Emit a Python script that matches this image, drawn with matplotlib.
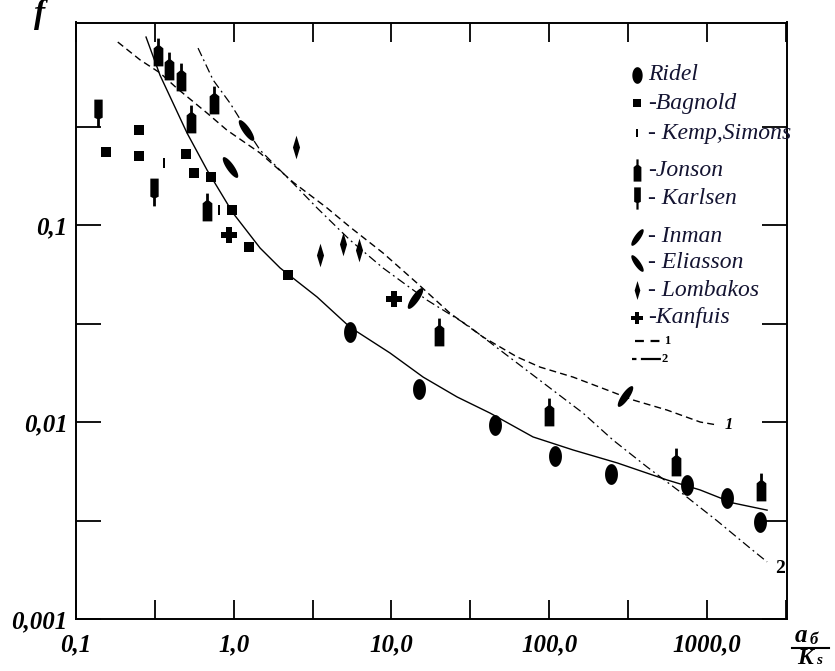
"""Friction factor f vs a_b/K_s: data points and fitted curves (log-log)."""
import matplotlib
matplotlib.use('Agg')
import matplotlib.pyplot as plt
import numpy as np
from matplotlib.lines import Line2D

# ------------------------------------------------------------------
#  Data
# ------------------------------------------------------------------
ridel_x = [5.46, 15.0, 45.4, 109, 247, 748, 1342, 2173]
ridel_y = [0.0286, 0.0147, 0.00966, 0.00672, 0.00544, 0.00479, 0.00411, 0.0031]

bagnold_x = [0.155, 0.251, 0.251, 0.498, 0.56, 0.718, 0.975, 1.25, 2.21]
bagnold_y = [0.235, 0.303, 0.224, 0.229, 0.184, 0.175, 0.119, 0.0773, 0.0557]

kemp_x = [0.361, 0.807]
kemp_y = [0.207, 0.119]

jonson_x = [0.331, 0.389, 0.464, 0.75, 0.536, 0.678, 20.0, 99.8, 638, 2208]
jonson_y = [0.755, 0.641, 0.563, 0.431, 0.345, 0.123, 0.0286, 0.0112, 0.0063, 0.0047]

karlsen_x = [0.138, 0.313]
karlsen_y = [0.37, 0.147]

inman_x = [14.1, 303]
inman_y = [0.0426, 0.01355]

eliasson_x = [1.197, 0.947]
eliasson_y = [0.303, 0.197]

lombakos_x = [2.48, 3.53, 4.93, 6.23]
lombakos_y = [0.249, 0.0704, 0.080, 0.0747]

kanfuis_x = [0.933, 10.4]
kanfuis_y = [0.089, 0.0421]

# fitted curve through Ridel data (solid)
ridel_curve_x = [0.278, 0.341, 0.506, 0.678, 0.99, 1.47, 1.97, 3.38, 5.46, 9.8,
                 15.9, 26.1, 42.2, 79, 142, 270, 559, 906, 1466, 2409]
ridel_curve_y = [0.90, 0.576, 0.293, 0.190, 0.115, 0.0764, 0.0605, 0.0431, 0.0303,
                 0.0224, 0.0169, 0.0134, 0.0111, 0.0084, 0.00721, 0.0062, 0.00508,
                 0.00452, 0.00388, 0.00357]

# curve 1 (dashed)
curve1_x = [0.184, 0.255, 0.341, 0.436, 0.678, 0.907, 1.47, 2.38, 3.91, 5.46, 8.85,
            14.5, 23.5, 38.1, 62.6, 87.6, 142, 233, 340, 559, 906, 1161]
curve1_y = [0.849, 0.689, 0.592, 0.495, 0.370, 0.303, 0.232, 0.165, 0.122, 0.0977,
            0.0721, 0.0508, 0.0357, 0.0270, 0.0214, 0.0190, 0.0169, 0.01454,
            0.01294, 0.0115, 0.0100, 0.00966]

# curve 2 (dash-dot)
curve2_x = [0.594, 0.740, 0.947, 1.214, 1.47, 2.38, 3.38, 5.46, 8.85, 16.8, 30.2,
            48.8, 101, 164, 254, 418, 706, 1161, 1879, 2409]
curve2_y = [0.791, 0.545, 0.416, 0.303, 0.240, 0.163, 0.122, 0.0839, 0.0605, 0.0416,
            0.0311, 0.0232, 0.0149, 0.0111, 0.0081, 0.00591, 0.00431, 0.00315,
            0.00229, 0.00195]

x_major = [0.1, 1.0, 10.0, 100.0, 1000.0]
x_labels = ['0,1', '1,0', '10,0', '100,0', '1000,0']
y_major = [0.001, 0.01, 0.1]
y_labels = ['0,001', '0,01', '0,1']

legend_labels = ['Ridel', '-Bagnold', '- Kemp,Simons', '-Jonson', '- Karlsen',
                 '- Inman', '- Eliasson', '- Lombakos', '-Kanfuis']


# ------------------------------------------------------------------
#  Marker shapes
# ------------------------------------------------------------------
def ellipse(w, h, angle=0.0):
    t = np.linspace(0, 2 * np.pi, 40)
    pts = np.column_stack([w * np.cos(t), h * np.sin(t)])
    a = np.deg2rad(angle)
    rot = np.array([[np.cos(a), -np.sin(a)], [np.sin(a), np.cos(a)]])
    return [tuple(p) for p in pts @ rot.T]


BOTTLE = [(-0.35, -1), (0.35, -1), (0.35, 0.3), (0.1, 0.5), (0.1, 1),
          (-0.1, 1), (-0.1, 0.5), (-0.35, 0.3)]
TAILED = [(-0.3, 1), (0.3, 1), (0.3, -0.3), (0.1, -0.4), (0.1, -1),
          (-0.1, -1), (-0.1, -0.4), (-0.3, -0.3)]
THIN_RECT = [(-0.3, -1), (0.3, -1), (0.3, 1), (-0.3, 1)]
DIAMOND = [(0, 1), (0.3, 0), (0, -1), (-0.3, 0)]

STYLES = {
    'Ridel':    dict(marker=ellipse(0.62, 1.0), ms=15),
    'Bagnold':  dict(marker='s', ms=7),
    'Kemp':     dict(marker=THIN_RECT, ms=7),
    'Jonson':   dict(marker=BOTTLE, ms=20),
    'Karlsen':  dict(marker=TAILED, ms=20),
    'Inman':    dict(marker=ellipse(0.3, 1.0, -35), ms=15),
    'Eliasson': dict(marker=ellipse(0.3, 1.0, 35), ms=15),
    'Lombakos': dict(marker=DIAMOND, ms=17),
    'Kanfuis':  dict(marker='P', ms=11),
}

SERIES = [
    ('Ridel', ridel_x, ridel_y),
    ('Bagnold', bagnold_x, bagnold_y),
    ('Kemp', kemp_x, kemp_y),
    ('Jonson', jonson_x, jonson_y),
    ('Karlsen', karlsen_x, karlsen_y),
    ('Inman', inman_x, inman_y),
    ('Eliasson', eliasson_x, eliasson_y),
    ('Lombakos', lombakos_x, lombakos_y),
    ('Kanfuis', kanfuis_x, kanfuis_y),
]

TICK_FONT = dict(family='Liberation Serif', weight='bold', style='italic', size=18)
LEG_FONT = dict(family='Liberation Serif', style='italic', size=17, color='#141432')
TITLE_FONT = dict(family='Liberation Serif', weight='bold', style='italic')

# ------------------------------------------------------------------
#  Figure
# ------------------------------------------------------------------
W, H = 835, 671
fig = plt.figure(figsize=(W / 100, H / 100), dpi=100)
ax = fig.add_axes([76 / W, 52 / H, 711 / W, 596.5 / H])
ax.set_xscale('log')
ax.set_yscale('log')
ax.set_xlim(0.1, 10 ** 3.508)
ax.set_ylim(0.001, 1.067)

ax.plot(ridel_curve_x, ridel_curve_y, color='black', lw=1.0)
ax.plot(curve1_x, curve1_y, color='black', lw=1.0, dashes=(5, 3))
ax.plot(curve2_x, curve2_y, color='black', lw=0.9, dashes=(7, 3, 1.5, 3))

for name, xs, ys in SERIES:
    st = STYLES[name]
    ax.plot(xs, ys, linestyle='none', marker=st['marker'], ms=st['ms'],
            color='black', mec='black', mew=0)

ax.text(1303, 0.0097, '1', fontsize=12, family='Liberation Serif',
        style='italic', weight='bold', va='center')
ax.text(2704, 0.00181, '2', fontsize=14, family='Liberation Serif',
        weight='bold', va='center')

# ticks: decades labelled, half decades unlabelled
ax.set_xticks(x_major)
ax.set_xticklabels(x_labels, fontdict=TICK_FONT)
ax.set_xticks([10 ** (k + 0.5) for k in range(-1, 4)], minor=True)
ax.set_yticks(y_major)
ax.set_yticklabels(y_labels, fontdict=TICK_FONT)
ax.set_yticks([10 ** (k + 0.5) for k in range(-3, 0)], minor=True)
ax.xaxis.set_minor_formatter(matplotlib.ticker.NullFormatter())
ax.yaxis.set_minor_formatter(matplotlib.ticker.NullFormatter())
ax.tick_params(axis='x', which='both', direction='in', length=14, width=1.3,
               top=True, pad=10)
ax.tick_params(axis='y', which='both', direction='in', length=18, width=1.3,
               right=True, pad=6)
for sp in ax.spines.values():
    sp.set_linewidth(1.4)

# legend drawn by hand
leg_rows = [75, 103, 133, 170, 198, 237, 263, 290, 318]
for (name, _, _), label, py in zip(SERIES, legend_labels, leg_rows):
    st = STYLES[name]
    fig.add_artist(Line2D([637 / W], [1 - py / H], marker=st['marker'],
                          ms=st['ms'] * 0.8, color='black', mew=0,
                          linestyle='none'))
    fig.text(648 / W, 1 - py / H, label, va='center', ha='left', **LEG_FONT)

fig.add_artist(Line2D([635 / W, 663 / W], [1 - 341 / H] * 2, color='black',
                      lw=1.6, dashes=(4, 3)))
fig.text(664 / W, 1 - 341 / H, '1', va='center', fontsize=9,
         family='Liberation Serif', weight='bold')
fig.add_artist(Line2D([632 / W, 661 / W], [1 - 359 / H] * 2, color='black',
                      lw=1.6, dashes=(2, 2, 9, 2)))
fig.text(662 / W, 1 - 359 / H, '2', va='center', fontsize=9,
         family='Liberation Serif', weight='bold')

# axis titles
fig.text(40 / W, 1 - 14 / H, 'f', ha='center', va='center', size=24, **TITLE_FONT)
fig.text(801 / W, 1 - 635 / H, 'a', ha='center', va='center', size=18, **TITLE_FONT)
fig.text(814 / W, 1 - 640 / H, 'б', ha='center', va='center', size=12, **TITLE_FONT)
fig.add_artist(Line2D([792 / W, 829 / W], [1 - 648 / H] * 2, color='black', lw=1.5))
fig.text(805 / W, 1 - 658 / H, 'K', ha='center', va='center', size=17, **TITLE_FONT)
fig.text(819 / W, 1 - 661 / H, 's', ha='center', va='center', size=11, **TITLE_FONT)

fig.savefig('out.png', dpi=100)
